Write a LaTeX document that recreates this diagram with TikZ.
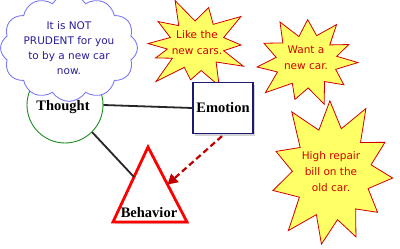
\documentclass[tikz,border=0pt]{standalone}
\usepackage{fontspec}
\setmainfont{Liberation Serif}
\newfontfamily\comicfont{DejaVu Sans}
\usetikzlibrary{shapes.symbols,shapes.geometric,shadows,arrows.meta,calc}
\definecolor{cloudblue}{HTML}{7B7BF5}
\definecolor{cloudtext}{HTML}{2A1F9A}
\definecolor{burstfill}{HTML}{FFFF66}
\definecolor{burstred}{HTML}{D00000}
\definecolor{arrowred}{HTML}{C00000}
\definecolor{navy}{HTML}{1A1A70}
\definecolor{thoughtgreen}{HTML}{1E8C1E}
\tikzset{
  burstshape/.style={draw=burstred, fill=burstfill, line width=0.8pt, line join=miter},
  bursttext/.style={text=burstred, font=\comicfont\fontsize{10.5}{16}\selectfont, align=center, inner sep=0pt},
  link/.style={line width=1.8pt, black!85},
  shad/.style={drop shadow={opacity=0.35, shadow xshift=2pt, shadow yshift=-2pt}},
  lbl/.style={font=\bfseries\fontsize{14.5}{16}\selectfont}
}
\begin{document}
\begin{tikzpicture}[x=1pt,y=-1pt]
\useasboundingbox (0,0) rectangle (400,249);
% Thought circle
\node[circle, draw=thoughtgreen, line width=0.9pt, fill=white, minimum size=76pt, inner sep=0pt] (thought) at (65,105) {};
% cloud
\node[cloud, cloud puffs=12, cloud puff arc=115, aspect=1.4, draw=cloudblue, line width=0.9pt, fill=white,
  minimum width=132pt, minimum height=98pt, text=cloudtext, align=center,
  font=\comicfont\fontsize{10.5}{15}\selectfont, inner sep=0pt] (cloud) at (69,48)
  {It is NOT\\PRUDENT for you\\to by a new car\\now.};
\node[lbl] (thoughtlbl) at (63,107) {Thought};
% burst 1
\begin{scope}[shift={(197,45)}, x=50pt, y=-43pt]
\draw[burstshape] (0:.88) -- (14:.55) -- (28:1.05) -- (46:.55) -- (65:1.05) -- (82:.6) -- (99:.82) -- (116:.58) -- (134:1.18) -- (148:.58) -- (160:.88) -- (171:.6) -- (182:.98) -- (198:.56) -- (215:.95) -- (231:.58) -- (247:1.12) -- (266:.56) -- (285:.9) -- (304:.58) -- (323:1.1) -- (342:.56) -- cycle;
\end{scope}
\node[bursttext] (b1) at (197,43) {Like the\\new cars.};
% burst 2
\begin{scope}[shift={(306,61)}, x=52pt, y=-45pt]
\draw[burstshape] (2:1) -- (18:.6) -- (36:.9) -- (52:.58) -- (70:1.02) -- (86:.6) -- (104:.88) -- (118:.56) -- (138:1.05) -- (156:.6) -- (172:.95) -- (188:.58) -- (206:.9) -- (222:.6) -- (240:1) -- (256:.56) -- (272:.92) -- (290:.6) -- (306:1) -- (322:.58) -- (336:.9) -- (350:.6) -- cycle;
\end{scope}
\node[bursttext] (b2) at (306,58) {Want a\\new car.};
% burst 3
\begin{scope}[shift={(332,173)}, x=64pt, y=-76pt]
\draw[burstshape] (4:.95) -- (20:.6) -- (36:.88) -- (52:.6) -- (66:.92) -- (82:.62) -- (100:.95) -- (114:.6) -- (132:1.02) -- (148:.6) -- (166:.95) -- (182:.62) -- (198:.92) -- (214:.6) -- (232:1.02) -- (250:.6) -- (268:.95) -- (284:.6) -- (302:1) -- (318:.6) -- (334:.92) -- (350:.62) -- cycle;
\end{scope}
\node[bursttext] (b3) at (331,172) {High repair\\bill on the\\old car.};
% Emotion
\node[rectangle, draw=navy, line width=1.2pt, fill=white, shad, minimum width=60pt, minimum height=51pt, lbl] (emotion) at (223,108) {Emotion};
% Behavior triangle
\coordinate (apex) at (148,147);
\coordinate (bl) at (113,222);
\coordinate (br) at (187,222);
\draw[red, line width=2.8pt, line join=miter, fill=white, shad] (apex) -- (bl) -- (br) -- cycle;
\node[lbl] (behaviorlbl) at (149,213) {Behavior};
\coordinate (tleft) at ($(apex)!0.4!(bl)$);
\coordinate (tright) at ($(apex)!0.5!(br)$);
\draw[link] (thought.east) -- (emotion.west);
\draw[link] (thought.-45) -- (tleft);
\coordinate (es) at ($(emotion.south)+(-1,2)$);
\draw[arrowred, line width=2.2pt, dash pattern=on 6pt off 3.5pt, -{Triangle[length=10pt,width=11pt]}] (es) -- (tright);
\end{tikzpicture}
\end{document}
